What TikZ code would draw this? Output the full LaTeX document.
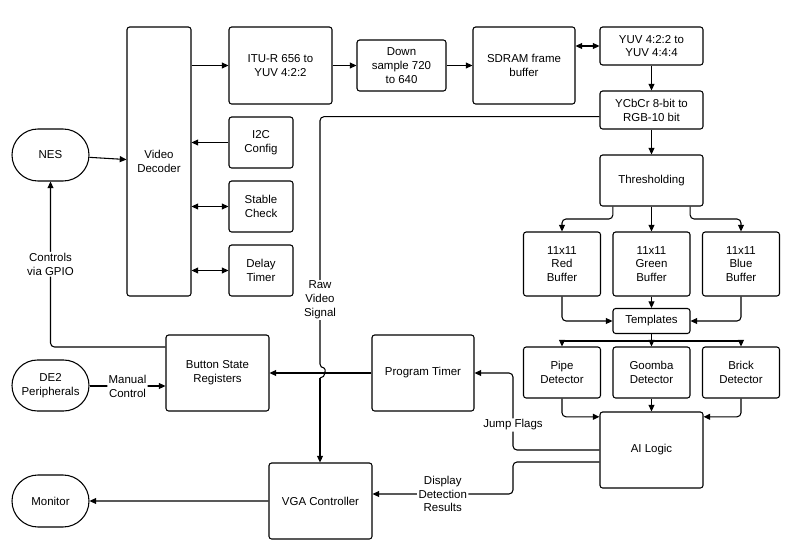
\documentclass[tikz,border=0pt]{standalone}
\usepackage{fontspec}
\setmainfont{Liberation Sans}
\usetikzlibrary{arrows.meta,shapes.misc}
\begin{document}
\begin{tikzpicture}[
    x=0.75pt, y=-0.75pt,
    box/.style={rectangle, draw, thick, rounded corners=2pt, align=center, inner sep=0pt, font=\fontsize{8.6}{10.4}\selectfont},
    ext/.style={rounded rectangle, draw, thick, align=center, inner sep=0pt, font=\fontsize{8.6}{10.4}\selectfont},
    sz/.style 2 args={minimum width=#1*0.75pt, minimum height=#2*0.75pt},
    arrow/.style={-{Triangle[length=5pt,width=4.5pt]}, thick, rounded corners=3pt},
    both/.style={{Triangle[length=5pt,width=4.5pt]}-{Triangle[length=5pt,width=4.5pt]}, thick},
    lbl/.style={fill=white, inner sep=1pt, align=center, font=\fontsize{8.6}{10.4}\selectfont}
]
    \useasboundingbox (0,0) rectangle (800,543);
    % upper chain
    \node[box, sz={64}{269}] (decoder) at (159,161.5) {Video\\Decoder};
    \node[box, sz={103}{77}] (itu) at (280.5,65.5) {ITU-R 656 to\\YUV 4:2:2};
    \node[box, sz={89}{51}] (down) at (401.5,65.5) {Down\\sample 720\\to 640};
    \node[box, sz={102}{77}] (sdram) at (524,65.5) {SDRAM frame\\buffer};
    \node[box, sz={103}{38}] (yuv) at (651.5,46) {YUV 4:2:2 to\\YUV 4:4:4};
    \node[box, sz={103}{38}] (ycbcr) at (651.5,110) {YCbCr 8-bit to\\RGB-10 bit};
    \node[box, sz={103}{51}] (thresh) at (651.5,180.5) {Thresholding};
    \node[box, sz={64}{51}] (i2c) at (261,142.5) {I2C\\Config};
    \node[box, sz={64}{51}] (stable) at (261,206.5) {Stable\\Check};
    \node[box, sz={64}{51}] (delay) at (261,270.5) {Delay\\Timer};
    \node[ext, sz={77}{52}] (nes) at (50.5,155) {NES};
    % buffers and detectors
    \node[box, sz={77}{64}] (red) at (562,264) {11x11\\Red\\Buffer};
    \node[box, sz={77}{64}] (green) at (651.5,264) {11x11\\Green\\Buffer};
    \node[box, sz={77}{64}] (blue) at (741,264) {11x11\\Blue\\Buffer};
    \node[box, sz={77}{25}] (templates) at (651.5,321) {Templates};
    \node[box, sz={77}{51}] (pipe) at (562,372.5) {Pipe\\Detector};
    \node[box, sz={77}{51}] (goomba) at (651.5,372.5) {Goomba\\Detector};
    \node[box, sz={77}{51}] (brick) at (741,372.5) {Brick\\Detector};
    \node[box, sz={103}{76}] (ai) at (651.5,450) {AI Logic};
    % lower row
    \node[box, sz={102}{76}] (timer) at (423,373) {Program Timer};
    \node[box, sz={103}{76}] (buttons) at (217.5,373) {Button State\\Registers};
    \node[ext, sz={77}{51}] (de2) at (50.5,385.5) {DE2\\Peripherals};
    \node[box, sz={103}{76}] (vga) at (320.5,501) {VGA Controller};
    \node[ext, sz={77}{52}] (monitor) at (50.5,501) {Monitor};
    \coordinate (jump) at (320,368);
    \coordinate (jumpend) at (320,378);

    \draw[arrow] (nes) -- (decoder);
    \draw[arrow] (decoder.east |- itu) -- (itu);
    \draw[arrow] (itu) -- (down);
    \draw[arrow] (down) -- (sdram);
    \draw[both] (sdram.east |- yuv) -- (yuv);
    \draw[arrow] (yuv) -- (ycbcr);
    \draw[arrow] (ycbcr) -- (thresh);
    \draw[arrow] (i2c) -- (decoder.east |- i2c);
    \draw[both] (decoder.east |- stable) -- (stable);
    \draw[both] (decoder.east |- delay) -- (delay);
    % raw video path with a hop over the timer line
    \draw[thick, rounded corners=3pt] ([yshift=-5pt]ycbcr.west) -| (jump) .. controls (326,368) and (326,378) .. (jumpend);
    \draw[arrow] (jumpend) -- (vga.north -| jumpend);
    \node[lbl] (rawlabel) at (320,300) {Raw\\Video\\Signal};
    % thresholding fan out
    \draw[arrow] ([xshift=-29pt]thresh.south) |- (562,219) -- (red.north);
    \draw[arrow] (thresh) -- (green);
    \draw[arrow] ([xshift=29pt]thresh.south) |- (741,219) -- (blue.north);
    \draw[arrow] (red.south) |- (templates.west);
    \draw[arrow] (green) -- (templates);
    \draw[arrow] (blue.south) |- (templates.east);
    \draw[thick] (templates) -- (651.5,341);
    \draw[thick] (562,341) -- (741,341);
    \draw[arrow] (562,341) -- (pipe);
    \draw[arrow] (651.5,341) -- (goomba);
    \draw[arrow] (741,341) -- (brick);
    \draw[arrow] (pipe.south) |- ([yshift=-4pt]ai.north west);
    \draw[arrow] (goomba) -- (ai);
    \draw[arrow] (brick.south) |- ([yshift=-4pt]ai.north east);
    % outputs of the AI logic
    \draw[arrow] (ai.west) -| (513,400) node[lbl, pos=0.75] {Jump Flags} |- (timer.east);
    \draw[arrow] ([yshift=-9pt]ai.west) -| (513,494) -- (vga.east |- 513,494) node[lbl, pos=0.5] {Display\\Detection\\Results};
    \draw[arrow] (timer) -- (buttons);
    \draw[arrow] (de2.east |- 0,386) -- node[lbl] {Manual\\Control} (buttons.west |- 0,386);
    \draw[arrow] ([yshift=19.5pt]buttons.west) -| node[lbl, pos=0.75] {Controls\\via GPIO} (nes.south);
    \draw[arrow] (vga) -- (monitor);
\end{tikzpicture}
\end{document}
